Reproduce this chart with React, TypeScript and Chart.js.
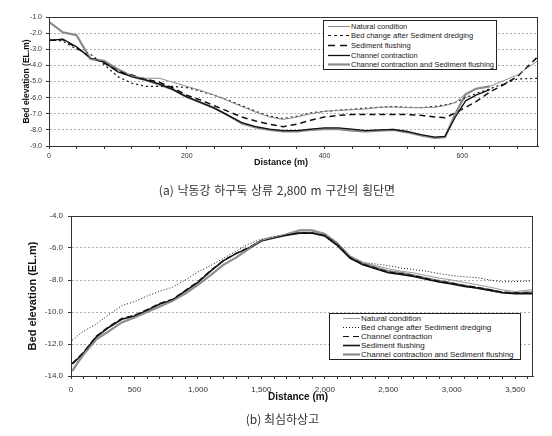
import React, { useEffect, useRef } from 'react';
import { Chart, registerables } from 'chart.js';

Chart.register(...registerables);

// ---------- Chart (a): cross-section 2,800 m upstream ----------
const namesA = [
  'Natural condition',
  'Bed change after Sediment dredging',
  'Sediment flushing',
  'Channel contraction',
  'Channel contraction and Sediment flushing',
];
const distA = [0, 20, 40, 60, 80, 100, 120, 140, 160, 180, 200, 220, 240, 260, 280, 300, 320, 340, 360, 380, 400, 420, 440, 460, 480, 500, 520, 540, 560, 575, 590, 605, 620, 640, 660, 680, 710];
const aNatural = [-1.3, -1.95, -2.12, -3.6, -3.72, -4.2, -4.65, -4.8, -4.8, -5.05, -5.3, -5.55, -5.85, -6.2, -6.55, -6.9, -7.2, -7.35, -7.2, -7.0, -6.85, -6.8, -6.75, -6.7, -6.6, -6.58, -6.62, -6.62, -6.6, -6.5, -6.3, -5.75, -5.45, -5.3, -4.95, -4.6, -3.7];
const aDredge = [-2.4, -2.5, -3.0, -3.3, -3.95, -4.7, -5.1, -5.3, -5.3, -5.3, -5.38, -5.6, -5.85, -6.15, -6.5, -6.85, -7.15, -7.3, -7.15, -6.95, -6.85, -6.78, -6.72, -6.65, -6.6, -6.55, -6.6, -6.62, -6.55, -6.45, -6.3, -6.0, -5.75, -5.45, -5.15, -4.85, -4.8];
const aFlush = [-2.45, -2.4, -2.9, -3.5, -3.85, -4.35, -4.6, -4.85, -5.05, -5.4, -5.85, -6.15, -6.5, -6.85, -7.2, -7.45, -7.65, -7.8, -7.65, -7.4, -7.2, -7.1, -7.05, -7.05, -7.05, -7.05, -7.05, -7.1, -7.2, -7.25, -6.95, -6.6, -6.25, -5.65, -5.2, -4.7, -3.45];
const aContract = [-2.45, -2.38, -2.85, -3.55, -3.8, -4.4, -4.7, -4.9, -5.15, -5.5, -5.95, -6.3, -6.65, -7.1, -7.55, -7.8, -7.95, -8.05, -8.05, -7.95, -7.88, -7.87, -7.95, -8.05, -8.0, -7.97, -8.1, -8.3, -8.45, -8.4, -7.2, -6.2, -5.85, -5.5, null, null, null];
const aCombined = [-1.3, -1.95, -2.13, -3.6, -3.72, -4.25, -4.68, -4.9, -5.2, -5.5, -5.96, -6.3, -6.65, -7.1, -7.6, -7.85, -8.0, -8.1, -8.1, -8.0, -7.95, -7.95, -8.05, -8.1, -8.05, -8.0, -8.15, -8.35, -8.5, -8.45, -7.0, -5.8, -5.45, -5.3, null, null, null];

// ---------- Chart (b): thalweg profile ----------
const namesB = [
  'Natural condition',
  'Bed change after Sediment dredging',
  'Channel contraction',
  'Sediment flushing',
  'Channel contraction and Sediment flushing',
];
const distB = [10, 50, 100, 200, 300, 400, 500, 600, 700, 800, 900, 1000, 1100, 1200, 1300, 1400, 1500, 1600, 1700, 1800, 1900, 2000, 2100, 2200, 2300, 2400, 2500, 2600, 2700, 2800, 2900, 3000, 3100, 3200, 3300, 3400, 3500, 3640];
const bNatural = [-13.65, -13.15, -12.6, -11.68, -11.15, -10.62, -10.32, -9.98, -9.62, -9.28, -8.82, -8.27, -7.67, -7.02, -6.57, -6.02, -5.52, -5.32, -5.12, -4.88, -4.88, -5.1, -5.65, -6.5, -6.9, -7.1, -7.3, -7.45, -7.55, -7.72, -7.88, -8.0, -8.15, -8.3, -8.45, -8.62, -8.72, -8.6];
const bDredge = [-11.75, -11.5, -11.2, -10.75, -10.15, -9.6, -9.35, -9.0, -8.7, -8.45, -8.0, -7.5, -7.1, -6.65, -6.2, -5.75, -5.45, -5.28, -5.17, -5.05, -5.02, -5.2, -5.7, -6.55, -6.9, -7.0, -7.1, -7.25, -7.35, -7.45, -7.6, -7.72, -7.8, -7.85, -8.0, -8.12, -8.1, -8.05];
const bContract = [-13.2, -12.9, -12.5, -11.5, -10.9, -10.4, -10.2, -9.85, -9.45, -9.2, -8.65, -8.1, -7.4, -6.78, -6.33, -5.98, -5.53, -5.33, -5.18, -5.05, -5.05, -5.22, -5.82, -6.6, -7.0, -7.25, -7.5, -7.6, -7.73, -7.9, -8.07, -8.2, -8.35, -8.45, -8.6, -8.75, -8.8, -8.8];
const bFlush = [-13.25, -12.95, -12.55, -11.55, -10.95, -10.45, -10.25, -9.9, -9.5, -9.25, -8.7, -8.15, -7.45, -6.8, -6.35, -6.0, -5.55, -5.35, -5.2, -5.07, -5.07, -5.25, -5.85, -6.65, -7.05, -7.3, -7.55, -7.65, -7.78, -7.95, -8.12, -8.25, -8.4, -8.5, -8.65, -8.8, -8.85, -8.85];
const bCombined = [-13.7, -13.2, -12.65, -11.7, -11.2, -10.65, -10.35, -10.0, -9.65, -9.3, -8.85, -8.3, -7.7, -7.05, -6.6, -6.05, -5.55, -5.35, -5.15, -4.9, -4.9, -5.12, -5.75, -6.55, -6.95, -7.2, -7.45, -7.55, -7.7, -7.9, -8.05, -8.2, -8.35, -8.5, -8.62, -8.78, -8.82, -8.75];

const captionA = '(a) 낙동강 하구둑 상류 2,800 m 구간의 횡단면';
const captionB = '(b) 최심하상고';
const yTitle = 'Bed elevation (EL.m)';
const xTitle = 'Distance (m)';

// ---------- styles ----------
type Style = { colors: string[]; widths: number[]; dashes: number[][]; legendDashes: number[][] };
const styleA: Style = {
  colors: ['#8c8c8c', '#111', '#111', '#111', '#8a8a8a'],
  widths: [1, 1.2, 1.5, 1.3, 2.2],
  dashes: [[], [2, 3], [6, 4], [], []],
  legendDashes: [[], [3, 3], [7, 5], [], []],
};
const styleB: Style = {
  colors: ['#999', '#111', '#111', '#111', '#8a8a8a'],
  widths: [1, 1, 1.2, 1.6, 2.2],
  dashes: [[], [1, 2], [6, 3], [], []],
  legendDashes: [[], [1, 2], [6, 4], [], []],
};

const FONT = '"Liberation Sans", Arial, sans-serif';
const KFONT = '"Noto Sans CJK KR", sans-serif';

const framePlugin = {
  id: 'frame',
  afterDatasetsDraw(chart: any) {
    const { ctx, chartArea: a } = chart;
    ctx.save();
    ctx.strokeStyle = '#333';
    ctx.lineWidth = 1;
    ctx.setLineDash([]);
    const x0 = Math.round(a.left) + 0.5;
    const y0 = Math.round(a.top) + 0.5;
    const x1 = Math.round(a.right) - 0.5;
    const y1 = Math.round(a.bottom) + 0.5;
    ctx.strokeRect(x0, y0, x1 - x0, y1 - y0);
    ctx.restore();
  },
};

function buildDatasets(names: string[], dist: number[], series: (number | null)[][], style: Style) {
  return series.map((vals, i) => ({
    label: names[i],
    data: dist
      .map((d, j) => ({ x: d, y: vals[j] }))
      .filter((p) => p.y !== null && p.y !== undefined),
    borderColor: style.colors[i],
    borderWidth: style.widths[i],
    borderDash: style.dashes[i],
    pointRadius: 0,
    fill: false,
    tension: 0,
  }));
}

function makeOptions(cfg: any) {
  return {
    animation: false,
    responsive: false,
    devicePixelRatio: 1,
    layout: { padding: cfg.padding },
    plugins: { legend: { display: false }, tooltip: { enabled: false } },
    scales: {
      x: {
        type: 'linear',
        min: cfg.xMin,
        max: cfg.xMax,
        afterFit: (s: any) => {
          s.height = cfg.xHeight;
        },
        grid: { display: true, drawOnChartArea: false, drawTicks: true, tickLength: 3, tickColor: '#333' },
        border: { display: true, color: '#333' },
        ticks: {
          stepSize: cfg.xStep,
          autoSkip: false,
          maxRotation: 0,
          minRotation: 0,
          includeBounds: false,
          padding: cfg.xPad,
          color: '#333',
          font: { family: FONT, size: cfg.tickSize },
          callback: cfg.xLabel,
        },
      },
      y: {
        min: cfg.yMin,
        max: cfg.yMax,
        afterFit: (s: any) => {
          s.width = cfg.yWidth;
        },
        grid: { color: '#b0b0b0', lineWidth: 1, drawTicks: true, tickLength: 3, tickColor: '#333' },
        border: { display: true, color: '#333', dash: [2, 2] },
        ticks: {
          stepSize: cfg.yStep,
          padding: cfg.yPad,
          color: '#333',
          font: { family: FONT, size: cfg.tickSize },
          callback: (v: any) => Number(v).toFixed(1),
        },
        title: {
          display: true,
          text: yTitle,
          color: '#111',
          font: { family: FONT, size: cfg.titleSize, weight: 'bold' },
          padding: { top: cfg.titlePad, bottom: 0 },
        },
      },
    },
  };
}

function Text({ text, cx, cy, size, bold, family, color, wordSpacing }: any) {
  return (
    <div
      style={{
        position: 'absolute',
        left: cx - 250,
        top: cy - size * 0.6,
        width: 500,
        textAlign: 'center',
        fontSize: size,
        lineHeight: `${size * 1.2}px`,
        fontFamily: family,
        fontWeight: bold ? 'bold' : 'normal',
        color,
        whiteSpace: 'pre',
        wordSpacing,
      }}
    >
      {text}
    </div>
  );
}

function LegendBox({ names, style, box, rowY0, rowGap, lineX, textX, fontSize }: any) {
  const [bx, by, bw, bh] = box;
  const rows = names.map((_: string, i: number) => Math.round(rowY0 + i * rowGap) + 0.5);
  return (
    <div
      style={{
        position: 'absolute',
        left: bx,
        top: by,
        width: bw,
        height: bh,
        border: '1px solid #222',
        background: '#fff',
        boxSizing: 'border-box',
      }}
    >
      <svg width={bw} height={bh} style={{ position: 'absolute', left: -1, top: -1 }}>
        {names.map((n: string, i: number) => (
          <line
            key={n}
            x1={lineX[0] - bx}
            x2={lineX[1] - bx}
            y1={rows[i] - by}
            y2={rows[i] - by}
            stroke={style.colors[i]}
            strokeWidth={style.widths[i]}
            strokeDasharray={style.legendDashes[i].length ? style.legendDashes[i].join(' ') : undefined}
          />
        ))}
      </svg>
      {names.map((n: string, i: number) => (
        <div
          key={n}
          style={{
            position: 'absolute',
            left: textX - bx - 1,
            top: rows[i] - by - 1 - fontSize * 0.6,
            lineHeight: `${fontSize * 1.2}px`,
            fontSize,
            fontFamily: FONT,
            color: '#222',
            whiteSpace: 'nowrap',
          }}
        >
          {n}
        </div>
      ))}
    </div>
  );
}

export default function App() {
  const refA = useRef<HTMLCanvasElement>(null);
  const refB = useRef<HTMLCanvasElement>(null);

  useEffect(() => {
    const chartA = new Chart(refA.current as HTMLCanvasElement, {
      type: 'line',
      data: {
        datasets: buildDatasets(namesA, distA, [aNatural, aDredge, aFlush, aContract, aCombined], styleA) as any,
      },
      options: makeOptions({
        padding: { left: 0, right: 14, top: 17, bottom: 0 },
        xMin: 0,
        xMax: 710,
        xStep: 40,
        xHeight: 22,
        xPad: 3,
        xLabel: (v: any) => (Number(v) % 200 === 0 ? String(v) : ''),
        yMin: -9,
        yMax: -1,
        yStep: 1,
        yWidth: 49,
        yPad: 4,
        tickSize: 7,
        titleSize: 8.5,
        titlePad: 22,
      }) as any,
      plugins: [framePlugin],
    });
    const chartB = new Chart(refB.current as HTMLCanvasElement, {
      type: 'line',
      data: {
        datasets: buildDatasets(namesB, distB, [bNatural, bDredge, bContract, bFlush, bCombined], styleB) as any,
      },
      options: makeOptions({
        padding: { left: 0, right: 19, top: 20, bottom: 0 },
        xMin: 0,
        xMax: 3640,
        xStep: 100,
        xHeight: 20,
        xPad: 6,
        xLabel: (v: any) => (Number(v) % 500 === 0 ? Number(v).toLocaleString('en-US') : ''),
        yMin: -14,
        yMax: -4,
        yStep: 2,
        yWidth: 71,
        yPad: 5,
        tickSize: 8,
        titleSize: 11,
        titlePad: 26.4,
      }) as any,
      plugins: [framePlugin],
    });
    return () => {
      chartA.destroy();
      chartB.destroy();
    };
  }, []);

  return (
    <div style={{ position: 'absolute', left: 0, top: 0, width: 552, height: 436, background: '#fff', overflow: 'hidden' }}>
      <canvas ref={refA} width={552} height={168} style={{ position: 'absolute', left: 0, top: 0, width: 552, height: 168 }} />
      <canvas ref={refB} width={552} height={200} style={{ position: 'absolute', left: 0, top: 196, width: 552, height: 200 }} />
      <Text text={xTitle} cx={281} cy={162.5} size={9} bold family={FONT} color="#111" />
      <Text text={xTitle} cx={298} cy={397} size={10} bold family={FONT} color="#111" />
      <Text text={captionA} cx={277} cy={190} size={12} family={KFONT} color="#333" wordSpacing={1} />
      <Text text={captionB} cx={282.5} cy={419} size={12} family={KFONT} color="#333" />
      <LegendBox
        names={namesA}
        style={styleA}
        box={[323, 20, 174, 50]}
        rowY0={25.5}
        rowGap={9.7}
        lineX={[328, 350]}
        textX={351}
        fontSize={7.5}
      />
      <LegendBox
        names={namesB}
        style={styleB}
        box={[329, 313, 192, 47]}
        rowY0={317.5}
        rowGap={9}
        lineX={[343, 360]}
        textX={361}
        fontSize={8}
      />
    </div>
  );
}
